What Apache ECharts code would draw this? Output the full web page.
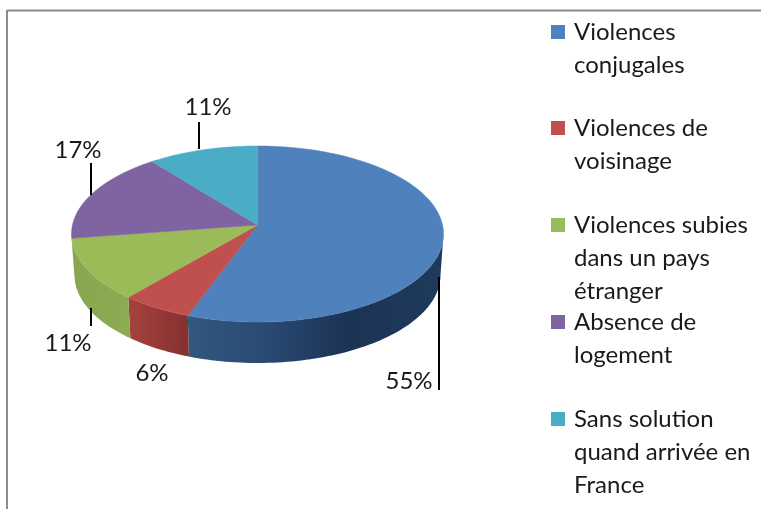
<!DOCTYPE html>
<html>
<head>
<meta charset="utf-8">
<style>html,body{margin:0;padding:0;background:#fff}#c{width:761px;height:509px;filter:blur(0.5px)}</style>
<script src="https://cdn.jsdelivr.net/npm/echarts@6/dist/echarts.min.js"></script>
</head>
<body>
<div id="c"></div>
<script>
const categories = ['Violences\nconjugales','Violences de\nvoisinage','Violences subies\ndans un pays\nétranger','Absence de\nlogement','Sans solution\nquand arrivée en\nFrance'];
const values = [55, 6, 11, 17, 11];
const colors = ['#4f81bd','#c0504d','#9bbb59','#8064a2','#4bacc6'];
const sideStops = [
  [[0,'#31587f'],[0.3,'#2a4a74'],[0.62,'#1c3454'],[1,'#1f3a5c']],
  [[0,'#a5423f'],[1,'#85312f']],
  [[0,'#87a64e'],[1,'#8cab52']],
  [[0,'#6a5388'],[1,'#6a5388']],
  [[0,'#3d93aa'],[1,'#3d93aa']]
];

// layout of the tilted disc
const apex = {x:257.5, y:225}, topFace = {x:257.5, y:234, rx:186, ry:88};
const baseFace = {x:257.5, y:275, rx:183, ry:88};
const tiltShift = [4, 4.4, 8, 5, 0]; // perspective shift of each slice's end angle, degrees
const labelLayout = [
  {x:409,y:381,line:[439,277,439,390]},
  {x:152,y:373,line:null},
  {x:68, y:343,line:[91,308,91,326]},
  {x:78, y:150,line:[91,163,91,195]},
  {x:208,y:107,line:[199,122,199,149]}
];
const legendFirstLineY = [32,128,225,322,419];
const FONT = 'Lato, "Open Sans", sans-serif', LH = 33;

const total = values.reduce((a,b)=>a+b,0);
let acc = 0;
const ends = values.map((v,i)=>{acc+=v;return -90+acc/total*360+tiltShift[i];});
const starts = ends.map((e,i)=>i===0?-90:ends[i-1]);
const pt=(e,d)=>{const r=d*Math.PI/180;return [e.x+e.rx*Math.cos(r),e.y+e.ry*Math.sin(r)];};
const arc=(e,a,b)=>{const n=Math.max(2,Math.ceil(Math.abs(b-a)/1.5)),o=[];for(let k=0;k<=n;k++)o.push(pt(e,a+(b-a)*k/n));return o;};

function renderSlice(i){
  return function(){
    const a=starts[i],b=ends[i],children=[];
    const sa=Math.max(a,0),sb=Math.min(b,180);
    if(sb>sa){
      const up=arc(topFace,sa,sb),dn=arc(baseFace,sa,sb).reverse();
      const pts=up.concat(dn);
      children.push({type:'polygon',shape:{points:pts},style:{fill:new echarts.graphic.LinearGradient(0,0,1,0,sideStops[i].map(s=>({offset:s[0],color:s[1]}))),stroke:null},z2:1});
    }
    children.push({type:'polygon',shape:{points:[[apex.x,apex.y]].concat(arc(topFace,a,b))},style:{fill:colors[i],stroke:colors[i],lineWidth:0.5},z2:2});
    const l=labelLayout[i];
    if(l.line)children.push({type:'line',shape:{x1:l.line[0],y1:l.line[1],x2:l.line[2],y2:l.line[3]},style:{stroke:'#000',lineWidth:2},z2:5});
    children.push({type:'text',x:l.x,y:l.y,style:{text:values[i]+'%',font:'24px '+FONT,fill:'#1a1a1a',align:'center',verticalAlign:'middle'},z2:6});
    return {type:'group',children};
  };
}

const series = categories.map((name,i)=>({
  name,type:'custom',coordinateSystem:'none',silent:true,animation:false,
  itemStyle:{color:colors[i]},
  data:[[values[i]]],renderItem:renderSlice(i)
}));

const legends = categories.map((name,i)=>{
  const n=name.split('\n').length;
  return {
    data:[{name,icon:'rect',itemStyle:{color:colors[i]}}],
    orient:'vertical',left:551,top:legendFirstLineY[i]-LH*(n-0.5),
    itemWidth:14,itemHeight:14,selectedMode:false,padding:0,
    formatter:v=>'\n'.repeat(n-1)+v,
    textStyle:{fontFamily:'Lato, "Open Sans", sans-serif',fontSize:24,lineHeight:LH,color:'#1a1a1a',padding:[0,0,0,4]}
  };
});

const chart = echarts.init(document.getElementById('c'),null,{renderer:'canvas'});
chart.setOption({
  animation:false,backgroundColor:'#fff',
  legend:legends,
  series,
  graphic:[
    {type:'line',shape:{x1:7,y1:10.5,x2:761,y2:10.5},style:{stroke:'#8c8c8c',lineWidth:2}},
    {type:'line',shape:{x1:7,y1:10,x2:7,y2:509},style:{stroke:'#8c8c8c',lineWidth:2}}
  ]
});
</script>
</body>
</html>
